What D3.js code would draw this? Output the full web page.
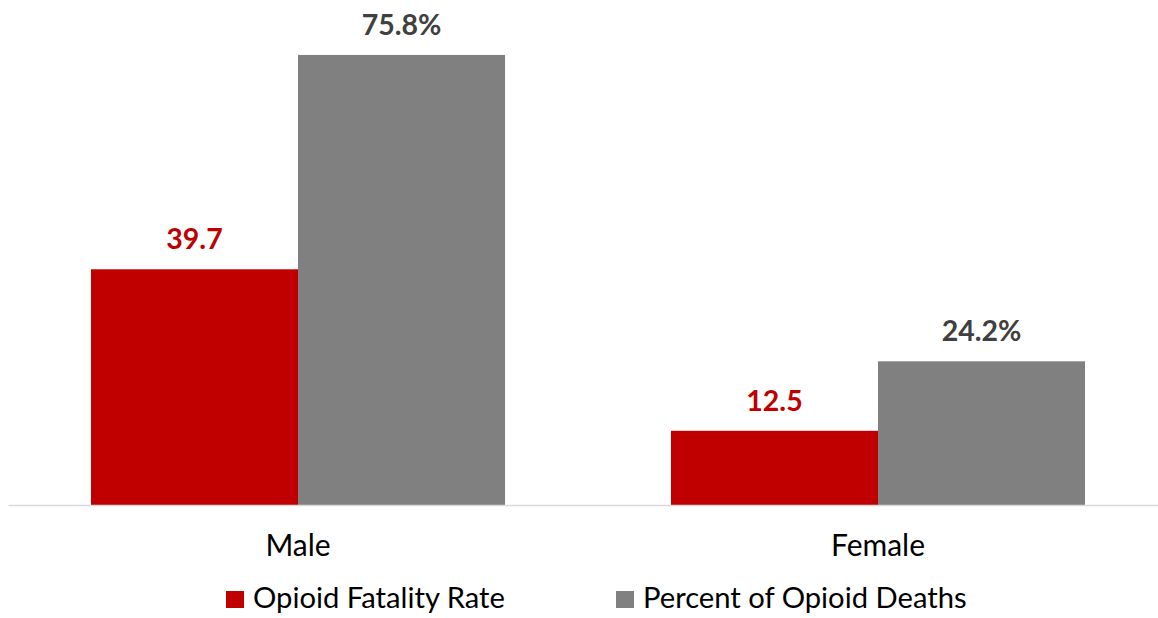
<!DOCTYPE html>
<html><head><meta charset="utf-8">
<script src="https://cdn.jsdelivr.net/npm/d3@7"></script>
<style>html,body{margin:0;padding:0;background:#fff;}svg{display:block;}</style>
</head><body><svg id="c" width="1158" height="618"></svg>
<script>
const categories = ["Male", "Female"];
const seriesNames = ["Opioid Fatality Rate", "Percent of Opioid Deaths"];
const fatalityRate = [39.7, 12.5];
const percentDeaths = [75.8, 24.2];
const labelFormats = [v => v.toFixed(1), v => v.toFixed(1) + "%"];
const colors = ["#C00000", "#808080"];
const labelColors = ["#C00000", "#404040"];

const svg = d3.select("#c");
const font = "Lato, 'Open Sans', sans-serif";
const baseY = 505;

const x0 = d3.scaleBand().domain(categories).range([8, 1168])
  .paddingInner(0.2862).paddingOuter(0.1431);
const x1 = d3.scaleBand().domain(seriesNames).range([0, x0.bandwidth()]);
const y = d3.scaleLinear().domain([0, 80]).range([baseY, 30]);

const data = categories.map((c, i) => ({cat: c, vals: [fatalityRate[i], percentDeaths[i]]}));

const g = svg.selectAll("g.grp").data(data).join("g")
  .attr("transform", d => `translate(${x0(d.cat)},0)`);

g.selectAll("rect").data(d => d.vals.map((v, j) => ({v, j}))).join("rect")
  .attr("x", d => x1(seriesNames[d.j]))
  .attr("width", x1.bandwidth())
  .attr("y", d => y(d.v))
  .attr("height", d => baseY - y(d.v))
  .attr("fill", d => colors[d.j]);

g.selectAll("text.lbl").data(d => d.vals.map((v, j) => ({v, j}))).join("text")
  .attr("class", "lbl")
  .attr("x", d => x1(seriesNames[d.j]) + x1.bandwidth() / 2)
  .attr("y", d => y(d.v) - 20)
  .attr("text-anchor", "middle")
  .attr("font-family", font).attr("font-weight", "bold").attr("font-size", 28.5)
  .attr("fill", d => labelColors[d.j])
  .text(d => labelFormats[d.j](d.v));

const axis = svg.append("g").attr("transform", `translate(0,${baseY})`)
  .call(d3.axisBottom(x0).tickSize(0).tickPadding(0).tickSizeOuter(0));
axis.select(".domain").attr("stroke", "#d9d9d9").attr("stroke-width", 1.5);
axis.selectAll(".tick text")
  .attr("font-family", font).attr("font-size", 30).attr("fill", "#000")
  .attr("dy", null).attr("y", 51);

// legend
const legX = [226, 616];
const leg = svg.selectAll("g.leg").data(seriesNames).join("g").attr("class", "leg")
  .attr("transform", (d, i) => `translate(${legX[i]},591)`);
leg.append("rect").attr("width", 18).attr("height", 17).attr("fill", (d, i) => colors[i]);
leg.append("text").attr("x", 27).attr("y", 17)
  .attr("font-family", font).attr("font-size", 29.2).attr("fill", "#000")
  .text(d => d);
</script></body></html>
